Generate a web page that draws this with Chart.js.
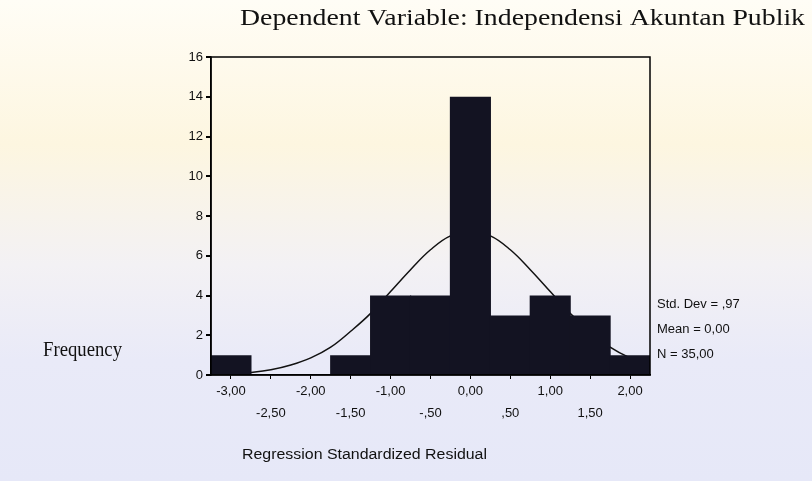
<!DOCTYPE html>
<html>
<head>
<meta charset="utf-8">
<script src="https://cdn.jsdelivr.net/npm/chart.js@4.4.0/dist/chart.umd.min.js"></script>
<style>
  html, body { margin: 0; padding: 0; }
  body {
    width: 812px; height: 481px; overflow: hidden;
    background: linear-gradient(180deg, #fffdf6 0%, #fdf6e0 30%, #f3f1f4 55%, #e9eaf8 75%, #e6e8f8 100%);
  }
</style>
</head>
<body>
<canvas id="residual-histogram" width="812" height="481"></canvas>
<script>
// Histogram bins (centre of each 0,5-wide bin) and frequencies
const binCenters = [-3, -2.5, -2, -1.5, -1, -0.5, 0, 0.5, 1, 1.5, 2];
const binCounts = [1, 0, 0, 1, 4, 4, 14, 3, 4, 3, 1];

// Normal curve
const curveX = [-3.25, -3, -2.75, -2.5, -2.25, -2, -1.75, -1.5, -1.25, -1, -0.75, -0.5, -0.25,
  0, 0.25, 0.5, 0.75, 1, 1.25, 1.5, 1.75, 2, 2.25];
const curveY = [0.03, 0.06, 0.13, 0.26, 0.5, 0.86, 1.4, 2.2, 3.1, 4.2, 5.3, 6.3, 7.0,
  7.2, 7.0, 6.3, 5.3, 4.2, 3.1, 2.2, 1.4, 0.86, 0.5];

// Axis ticks
const yTickValues = [0, 2, 4, 6, 8, 10, 12, 14, 16];
const xTickValues = [-3, -2.5, -2, -1.5, -1, -0.5, 0, 0.5, 1, 1.5, 2];
const xTickLabels = ['-3,00', '-2,50', '-2,00', '-1,50', '-1,00', '-,50', '0,00', ',50', '1,00', '1,50', '2,00'];

// Texts
const titleText = 'Dependent Variable: Independensi Akuntan Publik';
const yTitleText = 'Frequency';
const xTitleText = 'Regression Standardized Residual';
const statsLines = ['Std. Dev = ,97', 'Mean = 0,00', 'N = 35,00'];

const sansFont = '"Liberation Sans", Arial, sans-serif';
const serifFont = '"Liberation Serif", "Times New Roman", serif';

// draws a text squeezed/stretched to a given width (scanned original is a bit wide)
const drawText = (ctx, text, x, y, font, width) => {
  ctx.save();
  ctx.font = font;
  const w = ctx.measureText(text).width;
  ctx.translate(x, y);
  if (width) ctx.scale(width / w, 1);
  ctx.textAlign = 'left';
  ctx.textBaseline = 'middle';
  ctx.fillStyle = '#111';
  ctx.fillText(text, 0, 0);
  ctx.restore();
};

const decorations = {
  id: 'decorations',
  afterDraw(c) {
    const ctx = c.ctx;
    const a = c.chartArea;
    // frame round the plot
    ctx.save();
    ctx.strokeStyle = '#000';
    ctx.lineWidth = 1.5;
    ctx.strokeRect(a.left, a.top, a.right - a.left, a.bottom - a.top);
    ctx.restore();

    drawText(ctx, titleText, 240, 19, '24px ' + serifFont, 565);
    drawText(ctx, yTitleText, 43, 351, '20px ' + serifFont, 79);
    drawText(ctx, xTitleText, 242, 455, '14px ' + sansFont, 245);
    statsLines.forEach((line, i) => {
      drawText(ctx, line, 657, 304 + i * 25, '13px ' + sansFont);
    });
  },
};

const ctx = document.getElementById('residual-histogram');

new Chart(ctx, {
  type: 'bar',
  data: {
    datasets: [
      {
        type: 'line',
        data: curveX.map((x, i) => ({ x, y: curveY[i] })),
        borderColor: '#111',
        borderWidth: 1.5,
        pointRadius: 0,
        tension: 0.4,
        fill: false,
        // behind the bars, like the original where it vanishes into them
        order: 2,
      },
      {
        data: binCenters.map((x, i) => ({ x, y: binCounts[i] })),
        backgroundColor: '#131322',
        borderWidth: 0,
        // a hair over 1 so neighbouring bars join without seams
        barPercentage: 1.03,
        categoryPercentage: 1,
        grouped: false,
        order: 1,
      },
    ],
  },
  options: {
    responsive: false,
    animation: false,
    layout: {
      padding: { top: 57, right: 162, bottom: 0, left: 0 },
    },
    plugins: {
      legend: { display: false },
      tooltip: { enabled: false },
    },
    scales: {
      x: {
        type: 'linear',
        min: -3.25,
        max: 2.25,
        offset: false,
        afterBuildTicks: (s) => { s.ticks = xTickValues.map((v) => ({ value: v })); },
        afterFit: (s) => { s.height = 106; },
        ticks: {
          autoSkip: false,
          maxRotation: 0,
          padding: 2,
          color: '#111',
          font: { family: sansFont, size: 13, lineHeight: 1.65 },
          callback: (v) => {
            const i = xTickValues.indexOf(v);
            return Number.isInteger(v) ? [xTickLabels[i], ''] : ['', xTickLabels[i]];
          },
        },
        grid: {
          drawOnChartArea: false,
          drawTicks: true,
          tickLength: 4,
          color: '#000',
          offset: false,
        },
        border: { display: true, color: '#000', width: 1.5 },
      },
      y: {
        min: 0,
        max: 16,
        afterBuildTicks: (s) => { s.ticks = yTickValues.map((v) => ({ value: v })); },
        afterFit: (s) => { s.width = 211; },
        ticks: {
          padding: 3,
          color: '#111',
          font: { family: sansFont, size: 13 },
        },
        grid: {
          drawOnChartArea: false,
          drawTicks: true,
          tickLength: 5,
          lineWidth: 2,
          color: '#000',
        },
        border: { display: true, color: '#000', width: 1.5 },
      },
    },
  },
  plugins: [decorations],
});
</script>
</body>
</html>
